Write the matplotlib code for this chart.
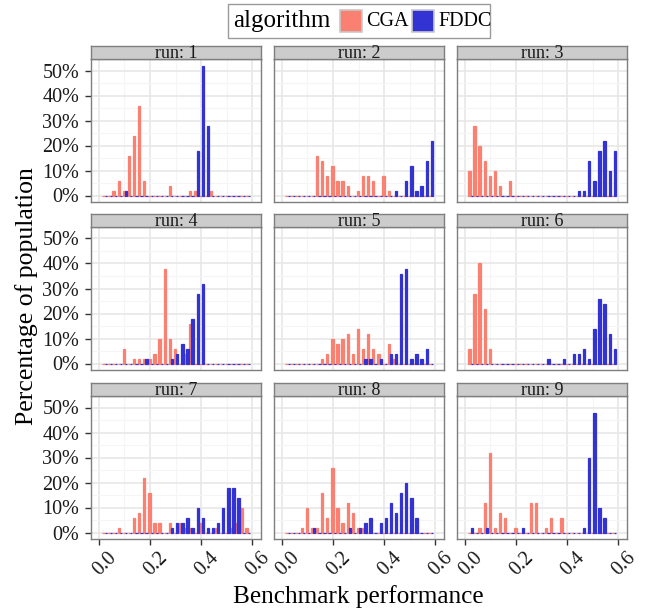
import matplotlib
matplotlib.use('Agg')
import matplotlib.pyplot as plt
from matplotlib.patches import Rectangle
from matplotlib.ticker import FuncFormatter
from matplotlib.transforms import ScaledTranslation

plt.rcParams['font.family'] = ['Liberation Serif', 'DejaVu Serif']

# ---- data -------------------------------------------------------------
bin_centers = [0.022, 0.042, 0.062, 0.082, 0.102, 0.122, 0.142, 0.162, 0.182, 0.202,
               0.222, 0.242, 0.262, 0.282, 0.302, 0.322, 0.342, 0.362, 0.382, 0.402,
               0.422, 0.442, 0.462, 0.482, 0.502, 0.522, 0.542, 0.562, 0.582]
runs = [1, 2, 3, 4, 5, 6, 7, 8, 9]
algorithms = ['CGA', 'FDDC']

#            0  1  2  3  4  5  6  7  8  9 10 11 12 13 14 15 16 17 18 19 20 21 22 23 24 25 26 27 28
cga_run1  = [0, 0, 2, 6, 2,16,24,36, 6, 0, 0, 0, 0, 4, 0, 0, 0, 2, 2, 0, 0, 2, 0, 0, 0, 0, 0, 0, 0]
fddc_run1 = [0, 0, 0, 0, 2, 0, 0, 0, 0, 0, 0, 0, 0, 0, 0, 0, 0, 0,18,52,28, 0, 0, 0, 0, 0, 0, 0, 0]
cga_run2  = [0, 0, 0, 0, 0, 0,16,14, 8,12, 6, 6, 4, 0, 2, 8, 8, 6, 0, 8, 2, 0, 0, 0, 0, 0, 0, 0, 0]
fddc_run2 = [0, 0, 0, 0, 0, 0, 0, 0, 0, 0, 0, 0, 0, 0, 0, 0, 0, 0, 0, 0, 0, 2, 0, 6,12, 2, 4,14,22]
cga_run3  = [10,28,20,14, 8,10, 4, 0, 6, 0, 0, 0, 0, 0, 0, 0, 0, 0, 0, 0, 0, 0, 0, 0, 0, 0, 0, 0, 0]
fddc_run3 = [0, 0, 0, 0, 0, 0, 0, 0, 0, 0, 0, 0, 0, 0, 0, 0, 0, 0, 0, 0, 0, 2, 2,14, 6,18,22,10,18]
cga_run4  = [0, 0, 0, 0, 6, 0, 2, 2, 2, 2, 4,10,38,10, 6, 0, 4,16, 0, 0, 0, 0, 0, 0, 0, 0, 0, 0, 0]
fddc_run4 = [0, 0, 0, 0, 0, 0, 0, 0, 2, 0, 0, 0, 0, 2, 4, 8, 6,18,28,32, 0, 0, 0, 0, 0, 0, 0, 0, 0]
cga_run5  = [0, 0, 0, 0, 0, 0, 0, 2, 4,10, 8,10,12, 4,14, 6,12, 6, 4, 0, 8, 2, 0, 0, 0, 0, 0, 0, 0]
fddc_run5 = [0, 0, 0, 0, 0, 0, 0, 0, 0, 0, 0, 0, 0, 0, 0, 2, 2, 0, 2, 0, 4, 4,36,38, 2, 4, 2, 6, 0]
cga_run6  = [6,28,40,22, 6, 0, 0, 0, 0, 0, 0, 0, 0, 0, 0, 0, 0, 0, 0, 0, 0, 0, 0, 0, 0, 0, 0, 0, 0]
fddc_run6 = [0, 0, 0, 0, 0, 0, 0, 0, 0, 0, 0, 0, 0, 0, 0, 2, 0, 0, 2, 0, 4, 4, 6, 2,14,26,24,12, 6]
cga_run7  = [0, 0, 0, 2, 0, 0, 6, 8,22,16, 4, 4, 0, 4, 0, 4, 2, 2, 0, 4, 0, 0, 2, 0, 0, 2, 4,10, 2]
fddc_run7 = [0, 0, 0, 0, 0, 0, 0, 0, 0, 0, 0, 0, 0, 2, 4, 4, 6, 2,10, 6, 2, 2, 4,10,18,18,14, 0, 0]
cga_run8  = [0, 0, 0, 2,10, 2, 2,16, 6,26,10, 4,12, 8, 2, 2, 0, 0, 0, 0, 0, 0, 0, 0, 0, 0, 0, 0, 0]
fddc_run8 = [0, 0, 0, 0, 0, 2, 0, 0, 0, 0, 0, 0, 2, 0, 2, 4, 6, 0, 4, 6,12, 8,16,20,14, 6, 0, 0, 0]
cga_run9  = [0, 0, 2,12,32, 2, 8, 6, 0, 2, 0, 0,12,12, 0, 2, 6, 0, 6, 0, 0, 0, 0, 0, 0, 0, 0, 0, 0]
fddc_run9 = [2, 0, 0, 2, 0, 0, 0, 0, 0, 0, 2, 0, 0, 0, 0, 0, 0, 0, 0, 0, 0, 0, 2,30,48,10, 6, 0, 0]

cga_all = [cga_run1, cga_run2, cga_run3, cga_run4, cga_run5, cga_run6, cga_run7, cga_run8, cga_run9]
fddc_all = [fddc_run1, fddc_run2, fddc_run3, fddc_run4, fddc_run5, fddc_run6, fddc_run7, fddc_run8, fddc_run9]

x_ticks = [0.0, 0.2, 0.4, 0.6]
x_tick_labels = ['0.0', '0.2', '0.4', '0.6']
y_ticks = [0.0, 0.1, 0.2, 0.3, 0.4, 0.5]

# ---- style ------------------------------------------------------------
W, H = 649, 616
col_cga = '#FA8072'
col_fddc = '#3333D4'
bin_w = 0.02
bar_w = 0.45 * bin_w

fig = plt.figure(figsize=(W / 100, H / 100), dpi=100)
fig.patch.set_facecolor('white')

col_left = [91, 274, 457]
pan_w = 170
row_top = [59, 227, 396]
pan_h = 143
strip_h = 13

def fr(x, ytop, w, h):
    return [x / W, 1 - (ytop + h) / H, w / W, h / H]

xlab_offset = ScaledTranslation(6 / 100, 0, fig.dpi_scale_trans)

for k, run in enumerate(runs):
    r, c = divmod(k, 3)
    ax = fig.add_axes(fr(col_left[c], row_top[r], pan_w, pan_h))
    ax.set_facecolor('white')
    ax.set_xlim(-0.031, 0.634)
    ax.set_ylim(-0.026, 0.546)
    ax.set_xticks(x_ticks)
    ax.set_xticks([0.1, 0.3, 0.5], minor=True)
    ax.set_yticks(y_ticks)
    ax.set_yticks([0.05, 0.15, 0.25, 0.35, 0.45], minor=True)
    ax.grid(which='major', color='#E6E6E6', linewidth=1.1)
    ax.grid(which='minor', color='#F5F5F5', linewidth=0.8)
    ax.set_axisbelow(True)
    for s in ax.spines.values():
        s.set_color('#7F7F7F')
        s.set_linewidth(1.0)

    cga = [v / 100 for v in cga_all[k]]
    fddc = [v / 100 for v in fddc_all[k]]
    xc = [b - bar_w / 2 for b in bin_centers]
    xf = [b + bar_w / 2 for b in bin_centers]
    ax.bar(xc, cga, width=bar_w, color=col_cga, edgecolor=col_cga, linewidth=0.9, zorder=3)
    ax.bar(xf, fddc, width=bar_w, color=col_fddc, edgecolor=col_fddc, linewidth=0.9, zorder=3)

    ax.tick_params(which='minor', length=0)
    if c == 0:
        ax.yaxis.set_major_formatter(FuncFormatter(lambda v, p: f'{v*100:.0f}%'))
        ax.tick_params(axis='y', which='major', length=4.5, width=1.0, color='#333333',
                       labelsize=14.5, labelcolor='#1A1A1A', pad=4)
    else:
        ax.tick_params(axis='y', which='major', length=0, labelleft=False)
    if r == 2:
        ax.set_xticklabels(x_tick_labels)
        ax.tick_params(axis='x', which='major', length=4.5, width=1.0, color='#333333',
                       labelsize=14.5, labelcolor='#1A1A1A', pad=2)
        for lab in ax.get_xticklabels():
            lab.set_rotation(45)
            lab.set_ha('center')
            lab.set_va('top')
            lab.set_rotation_mode('default')
            lab.set_transform(lab.get_transform() + xlab_offset)
    else:
        ax.tick_params(axis='x', which='major', length=0, labelbottom=False)

    # strip
    sax = fig.add_axes(fr(col_left[c], row_top[r] - strip_h, pan_w, strip_h))
    sax.set_facecolor('#CCCCCC')
    sax.set_xticks([])
    sax.set_yticks([])
    for s in sax.spines.values():
        s.set_color('#7F7F7F')
        s.set_linewidth(1.0)
    sax.text(0.5, 0.42, f'run: {run}', ha='center', va='center', fontsize=13,
             color='#1A1A1A', transform=sax.transAxes)

# axis titles
fig.text(358 / W, 1 - 597 / H, 'Benchmark performance', ha='center', va='center',
         fontsize=18.2, color='black')
fig.text(27 / W, 1 - 296 / H, 'Percentage of population', ha='center', va='center',
         rotation=90, fontsize=18.5, color='black')

# legend (manual, ggplot style: title left of keys)
def px_rect(x, y, w, h, **kw):
    return Rectangle((x / W, 1 - (y + h) / H), w / W, h / H, transform=fig.transFigure, **kw)

fig.patches.append(px_rect(228, 4, 262, 34, facecolor='white', edgecolor='#9A9A9A', linewidth=1.0))
fig.text(233 / W, 1 - 21 / H, 'algorithm', ha='left', va='center', fontsize=18, color='black')
key_x = [340, 412]
key_cols = [col_cga, col_fddc]
for kx, kc, name in zip(key_x, key_cols, algorithms):
    fig.patches.append(px_rect(kx, 10, 22, 22, facecolor=kc, edgecolor='#C8C8C8', linewidth=1.2))
    fig.text((kx + 26) / W, 1 - 21 / H, name, ha='left', va='center', fontsize=14.5, color='black')

fig.savefig('out.png', dpi=100, facecolor='white')
